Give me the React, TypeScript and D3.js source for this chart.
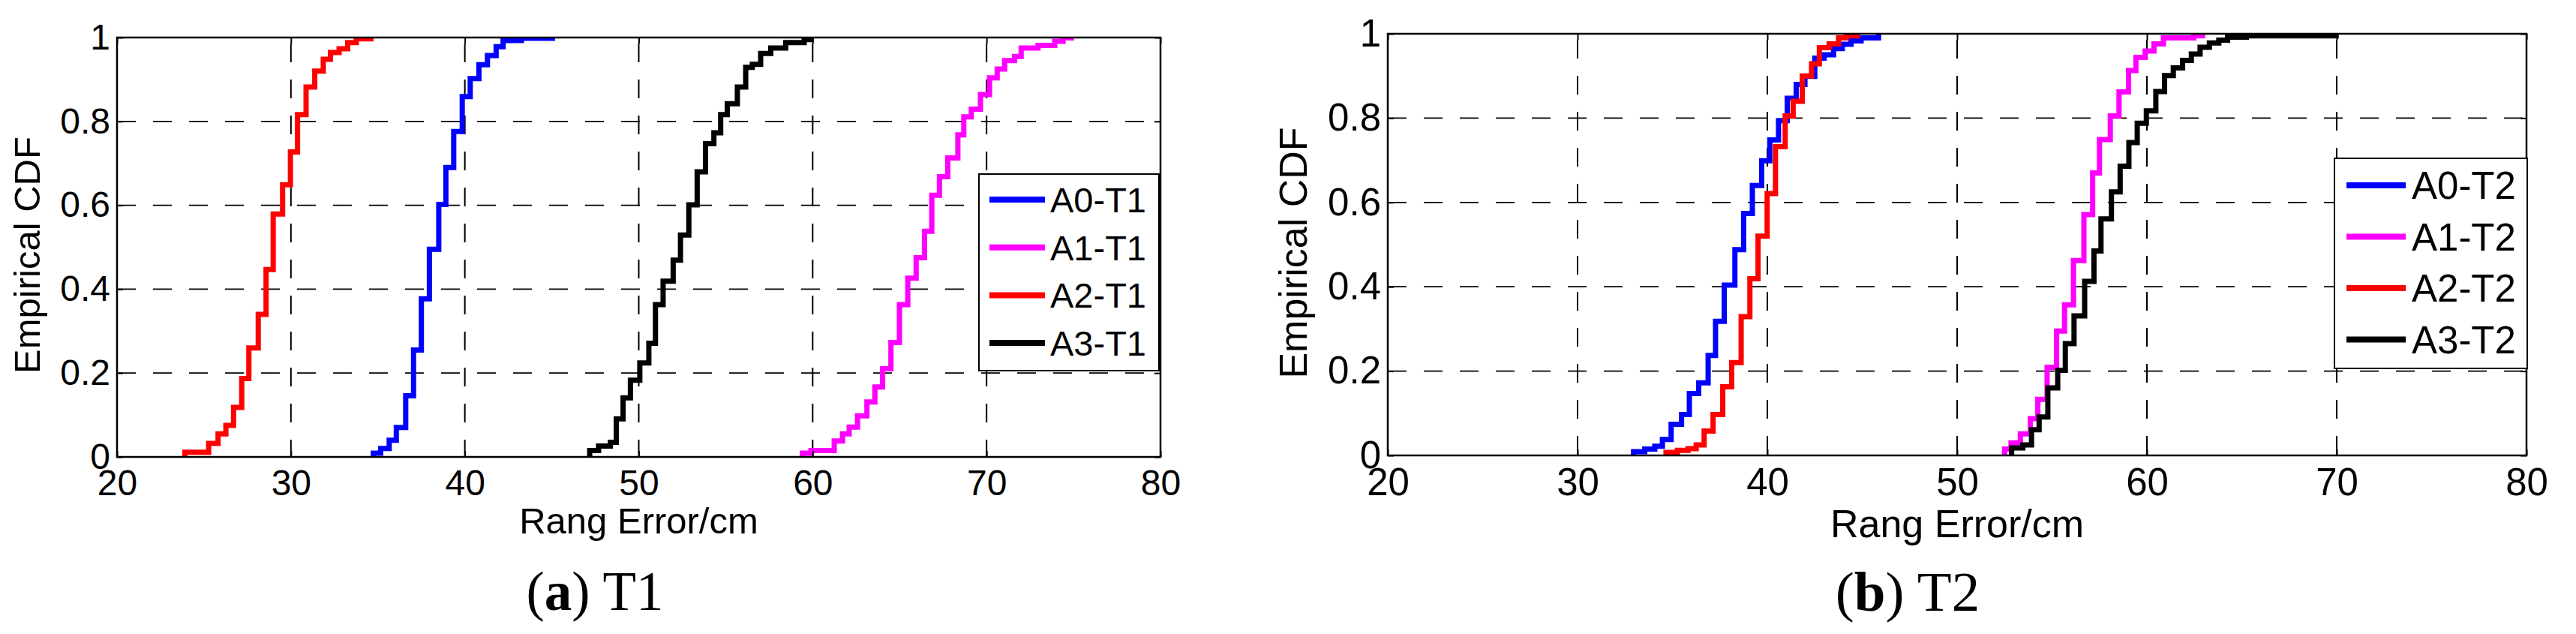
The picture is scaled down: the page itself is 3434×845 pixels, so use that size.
import React, {useEffect, useRef} from 'react';
import * as d3 from 'd3';

const W = 3434;
const H = 845;
const SANS = "'Liberation Sans', Arial, Helvetica, sans-serif";
const SERIF = "'Liberation Serif', 'Times New Roman', serif";

const xTicks = [20, 30, 40, 50, 60, 70, 80];
const yTicks = [0, 0.2, 0.4, 0.6, 0.8, 1];
const yTickLabels = ['0', '0.2', '0.4', '0.6', '0.8', '1'];
const xLabel = 'Rang Error/cm';
const yLabel = 'Empirical CDF';

const seriesColors = ['#0000ff', '#ff00ff', '#ff0000', '#000000'];
const namesT1 = ['A0-T1', 'A1-T1', 'A2-T1', 'A3-T1'];
const namesT2 = ['A0-T2', 'A1-T2', 'A2-T2', 'A3-T2'];

// each series: error value of every jump of the empirical CDF, and the level reached after it
const a0T1X = [34.74, 35.16, 35.65, 36.06, 36.6, 37.05, 37.5, 37.96, 38.5, 38.91, 39.36, 39.85, 40.31, 40.81, 41.3, 41.8, 42.2, 43.25, 45.04];
const a0T1F = [0.009, 0.02, 0.04, 0.07, 0.146, 0.255, 0.377, 0.495, 0.602, 0.69, 0.776, 0.859, 0.902, 0.935, 0.957, 0.978, 0.993, 0.998, 1];

const a1T1X = [59.41, 59.9, 61.24, 61.72, 62.1, 62.58, 63.12, 63.58, 64.02, 64.5, 64.99, 65.47, 65.95, 66.43, 66.85, 67.29, 67.77, 68.35, 68.69, 69.12, 69.65, 70.17, 70.61, 71.04, 71.61, 71.99, 72.96, 73.92, 74.4, 74.88];
const a1T1F = [0.009, 0.015, 0.038, 0.055, 0.071, 0.098, 0.131, 0.167, 0.21, 0.273, 0.363, 0.426, 0.475, 0.538, 0.624, 0.668, 0.713, 0.768, 0.811, 0.829, 0.864, 0.904, 0.925, 0.945, 0.955, 0.975, 0.981, 0.991, 0.999, 1];

const a2T1X = [23.9, 25.27, 25.81, 26.26, 26.7, 27.17, 27.58, 28.12, 28.57, 28.98, 29.52, 29.97, 30.38, 30.87, 31.37, 31.86, 32.27, 32.77, 33.26, 33.76, 34.6];
const a2T1F = [0.011, 0.032, 0.055, 0.075, 0.118, 0.187, 0.26, 0.34, 0.447, 0.579, 0.649, 0.727, 0.816, 0.882, 0.92, 0.948, 0.964, 0.973, 0.988, 0.997, 1];

const a3T1X = [47.18, 47.69, 48.37, 48.71, 49.1, 49.52, 50.06, 50.58, 50.96, 51.4, 51.98, 52.4, 52.88, 53.36, 53.84, 54.32, 54.71, 55.09, 55.67, 56.15, 56.53, 57.01, 57.59, 58.45, 59.51, 59.9];
const a3T1F = [0.015, 0.026, 0.035, 0.091, 0.141, 0.183, 0.224, 0.271, 0.363, 0.419, 0.469, 0.529, 0.601, 0.68, 0.747, 0.773, 0.816, 0.842, 0.882, 0.929, 0.936, 0.962, 0.975, 0.988, 0.995, 1];

const a0T2X = [32.95, 33.54, 34.07, 34.47, 34.93, 35.48, 35.89, 36.38, 36.88, 37.27, 37.73, 38.29, 38.75, 39.21, 39.7, 40.13, 40.59, 41.05, 41.52, 41.98, 42.5, 42.99, 43.49, 43.95, 44.41, 44.94, 45.86];
const a0T2F = [0.009, 0.015, 0.022, 0.038, 0.074, 0.097, 0.147, 0.172, 0.237, 0.318, 0.404, 0.488, 0.574, 0.64, 0.699, 0.748, 0.794, 0.847, 0.88, 0.899, 0.942, 0.95, 0.965, 0.975, 0.983, 0.99, 1];

const a1T2X = [52.5, 52.84, 53.33, 53.86, 54.25, 54.74, 55.24, 55.66, 56.13, 56.68, 57.14, 57.5, 58.07, 58.53, 59.03, 59.42, 59.91, 60.37, 60.87, 62.47, 62.93];
const a1T2F = [0.015, 0.03, 0.051, 0.087, 0.133, 0.209, 0.295, 0.357, 0.462, 0.571, 0.67, 0.749, 0.805, 0.862, 0.913, 0.944, 0.959, 0.976, 0.99, 0.995, 1];

const a2T2X = [34.66, 35.26, 35.82, 36.25, 36.67, 37.14, 37.65, 38.12, 38.62, 39.08, 39.51, 39.99, 40.43, 40.94, 41.36, 41.84, 42.33, 42.74, 43.25, 43.75, 44.15, 44.74];
const a2T2F = [0.007, 0.012, 0.016, 0.025, 0.058, 0.097, 0.163, 0.22, 0.329, 0.419, 0.52, 0.621, 0.732, 0.805, 0.84, 0.9, 0.929, 0.967, 0.976, 0.99, 0.995, 1];

const a3T2X = [52.87, 53.46, 53.92, 54.32, 54.78, 55.3, 55.7, 56.16, 56.72, 57.21, 57.58, 58.13, 58.59, 59.05, 59.49, 59.97, 60.47, 60.93, 61.39, 61.88, 62.34, 62.8, 63.29, 63.79, 64.25, 65.24, 69.97];
const a3T2F = [0.018, 0.025, 0.061, 0.091, 0.16, 0.202, 0.265, 0.331, 0.413, 0.485, 0.561, 0.625, 0.686, 0.742, 0.788, 0.817, 0.863, 0.901, 0.919, 0.937, 0.952, 0.968, 0.978, 0.985, 0.992, 0.995, 1];

interface Series {
  name: string;
  color: string;
  xs: number[];
  fs: number[];
}

interface Panel {
  id: string;
  left: number;
  right: number;
  top: number;
  bottom: number;
  tickFont: number;
  labelFont: number;
  legendFont: number;
  yLabelX: number;
  yLabelY: number;
  xLabelY: number;
  legendBox: [number, number, number, number];
  legendLine: [number, number];
  legendTextX: number;
  legendRowY: number;
  legendStep: number;
  captionX: number;
  captionY: number;
  captionSize: number;
  letter: string;
  title: string;
  series: Series[];
}

const makeSeries = (names: string[], xs: number[][], fs: number[][]): Series[] =>
  names.map((name, i) => ({name, color: seriesColors[i], xs: xs[i], fs: fs[i]}));

const panels: Panel[] = [
  {
    id: 't1',
    left: 156,
    right: 1547,
    top: 50,
    bottom: 609,
    tickFont: 48,
    labelFont: 49,
    legendFont: 47,
    yLabelX: 53,
    yLabelY: 340,
    xLabelY: 711,
    legendBox: [1305, 232, 1545, 494],
    legendLine: [1319, 1393],
    legendTextX: 1400,
    legendRowY: 266,
    legendStep: 63.7,
    captionX: 793,
    captionY: 813,
    captionSize: 73,
    letter: 'a',
    title: 'T1',
    series: makeSeries(namesT1, [a0T1X, a1T1X, a2T1X, a3T1X], [a0T1F, a1T1F, a2T1F, a3T1F]),
  },
  {
    id: 't2',
    left: 1850,
    right: 3368,
    top: 45,
    bottom: 607,
    tickFont: 51,
    labelFont: 52,
    legendFont: 51,
    yLabelX: 1742,
    yLabelY: 337,
    xLabelY: 716,
    legendBox: [3112, 211, 3369, 491],
    legendLine: [3128, 3207],
    legendTextX: 3215,
    legendRowY: 247,
    legendStep: 68.5,
    captionX: 2543,
    captionY: 814,
    captionSize: 75,
    letter: 'b',
    title: 'T2',
    series: makeSeries(namesT2, [a0T2X, a1T2X, a2T2X, a3T2X], [a0T2F, a1T2F, a2T2F, a3T2F]),
  },
];

type Sel = d3.Selection<SVGSVGElement, unknown, null, undefined>;

const drawPanel = (svg: Sel, p: Panel) => {
  const x = d3.scaleLinear().domain([20, 80]).range([p.left, p.right]);
  const y = d3.scaleLinear().domain([0, 1]).range([p.bottom, p.top]);
  const g = svg.append('g');

  g.append('clipPath')
    .attr('id', `clip-${p.id}`)
    .append('rect')
    .attr('x', p.left)
    .attr('y', p.top)
    .attr('width', p.right - p.left)
    .attr('height', p.bottom - p.top);

  // dashed grid, vertical lines run top to bottom
  g.append('g')
    .selectAll('line')
    .data(xTicks.slice(1, -1))
    .join('line')
    .attr('x1', (d) => x(d))
    .attr('x2', (d) => x(d))
    .attr('y1', p.top)
    .attr('y2', p.bottom)
    .attr('stroke', '#000')
    .attr('stroke-width', 2)
    .attr('stroke-dasharray', '25,23')
    .attr('stroke-dashoffset', 40);

  g.append('g')
    .selectAll('line')
    .data(yTicks.slice(1, -1))
    .join('line')
    .attr('x1', p.left)
    .attr('x2', p.right)
    .attr('y1', (d) => y(d))
    .attr('y2', (d) => y(d))
    .attr('stroke', '#000')
    .attr('stroke-width', 1.8)
    .attr('stroke-dasharray', '25,23');

  // stair lines
  const line = d3
    .line<[number, number]>()
    .x((d) => x(d[0]))
    .y((d) => y(d[1]))
    .curve(d3.curveStepAfter);

  const lines = g.append('g').attr('clip-path', `url(#clip-${p.id})`);
  p.series.forEach((s) => {
    const pts: [number, number][] = [[s.xs[0], 0], ...s.xs.map((v, i) => [v, s.fs[i]] as [number, number])];
    lines
      .append('path')
      .attr('d', line(pts))
      .attr('fill', 'none')
      .attr('stroke', s.color)
      .attr('stroke-width', 7)
      .attr('stroke-linejoin', 'miter');
  });

  const styleAxis = (a: d3.Selection<SVGGElement, unknown, null, undefined>) => {
    a.select('.domain').remove();
    a.selectAll('line').attr('stroke-width', 2);
    a.selectAll('text').attr('font-size', p.tickFont).attr('font-family', SANS).attr('fill', '#000');
  };

  g.append('g')
    .attr('transform', `translate(0,${p.bottom})`)
    .call(d3.axisBottom(x).tickValues(xTicks).tickSizeInner(-8).tickSizeOuter(0).tickPadding(17))
    .call(styleAxis);
  g.append('g')
    .attr('transform', `translate(0,${p.top})`)
    .call(d3.axisTop(x).tickValues(xTicks).tickSizeInner(-8).tickSizeOuter(0).tickFormat(() => ''))
    .call(styleAxis);
  g.append('g')
    .attr('transform', `translate(${p.left},0)`)
    .call(
      d3
        .axisLeft(y)
        .tickValues(yTicks)
        .tickSizeInner(-8)
        .tickSizeOuter(0)
        .tickPadding(9)
        .tickFormat((d, i) => yTickLabels[i]),
    )
    .call(styleAxis);
  g.append('g')
    .attr('transform', `translate(${p.right},0)`)
    .call(d3.axisRight(y).tickValues(yTicks).tickSizeInner(-8).tickSizeOuter(0).tickFormat(() => ''))
    .call(styleAxis);

  // box
  g.append('rect')
    .attr('x', p.left)
    .attr('y', p.top)
    .attr('width', p.right - p.left)
    .attr('height', p.bottom - p.top)
    .attr('fill', 'none')
    .attr('stroke', '#000')
    .attr('stroke-width', 2.5);

  // legend
  const [lx0, ly0, lx1, ly1] = p.legendBox;
  const legend = g.append('g');
  legend
    .append('rect')
    .attr('x', lx0)
    .attr('y', ly0)
    .attr('width', lx1 - lx0)
    .attr('height', ly1 - ly0)
    .attr('fill', '#fff')
    .attr('stroke', '#000')
    .attr('stroke-width', 2);
  p.series.forEach((s, i) => {
    const cy = p.legendRowY + i * p.legendStep;
    legend
      .append('line')
      .attr('x1', p.legendLine[0])
      .attr('x2', p.legendLine[1])
      .attr('y1', cy)
      .attr('y2', cy)
      .attr('stroke', s.color)
      .attr('stroke-width', 8);
    legend
      .append('text')
      .attr('x', p.legendTextX)
      .attr('y', cy + 0.358 * p.legendFont)
      .attr('font-size', p.legendFont)
      .attr('font-family', SANS)
      .text(s.name);
  });

  // axis titles
  g.append('text')
    .attr('x', (p.left + p.right) / 2)
    .attr('y', p.xLabelY)
    .attr('text-anchor', 'middle')
    .attr('font-size', p.labelFont)
    .attr('font-family', SANS)
    .text(xLabel);
  g.append('text')
    .attr('transform', `translate(${p.yLabelX},${p.yLabelY}) rotate(-90)`)
    .attr('text-anchor', 'middle')
    .attr('font-size', p.labelFont)
    .attr('font-family', SANS)
    .text(yLabel);

  // caption below the panel
  const cap = g
    .append('text')
    .attr('x', p.captionX)
    .attr('y', p.captionY)
    .attr('text-anchor', 'middle')
    .attr('font-size', p.captionSize)
    .attr('font-family', SERIF);
  cap.append('tspan').text('(');
  cap.append('tspan').attr('font-weight', 'bold').text(p.letter);
  cap.append('tspan').text(`) ${p.title}`);
};

const App: React.FC = () => {
  const svgRef = useRef<SVGSVGElement>(null);

  useEffect(() => {
    if (!svgRef.current) return;
    const svg = d3.select(svgRef.current);
    svg.selectAll('*').remove();
    panels.forEach((p) => drawPanel(svg, p));
  }, []);

  return (
    <svg
      ref={svgRef}
      width={W}
      height={H}
      style={{position: 'absolute', left: 0, top: 0, background: '#fff'}}
    />
  );
};

export default App;
